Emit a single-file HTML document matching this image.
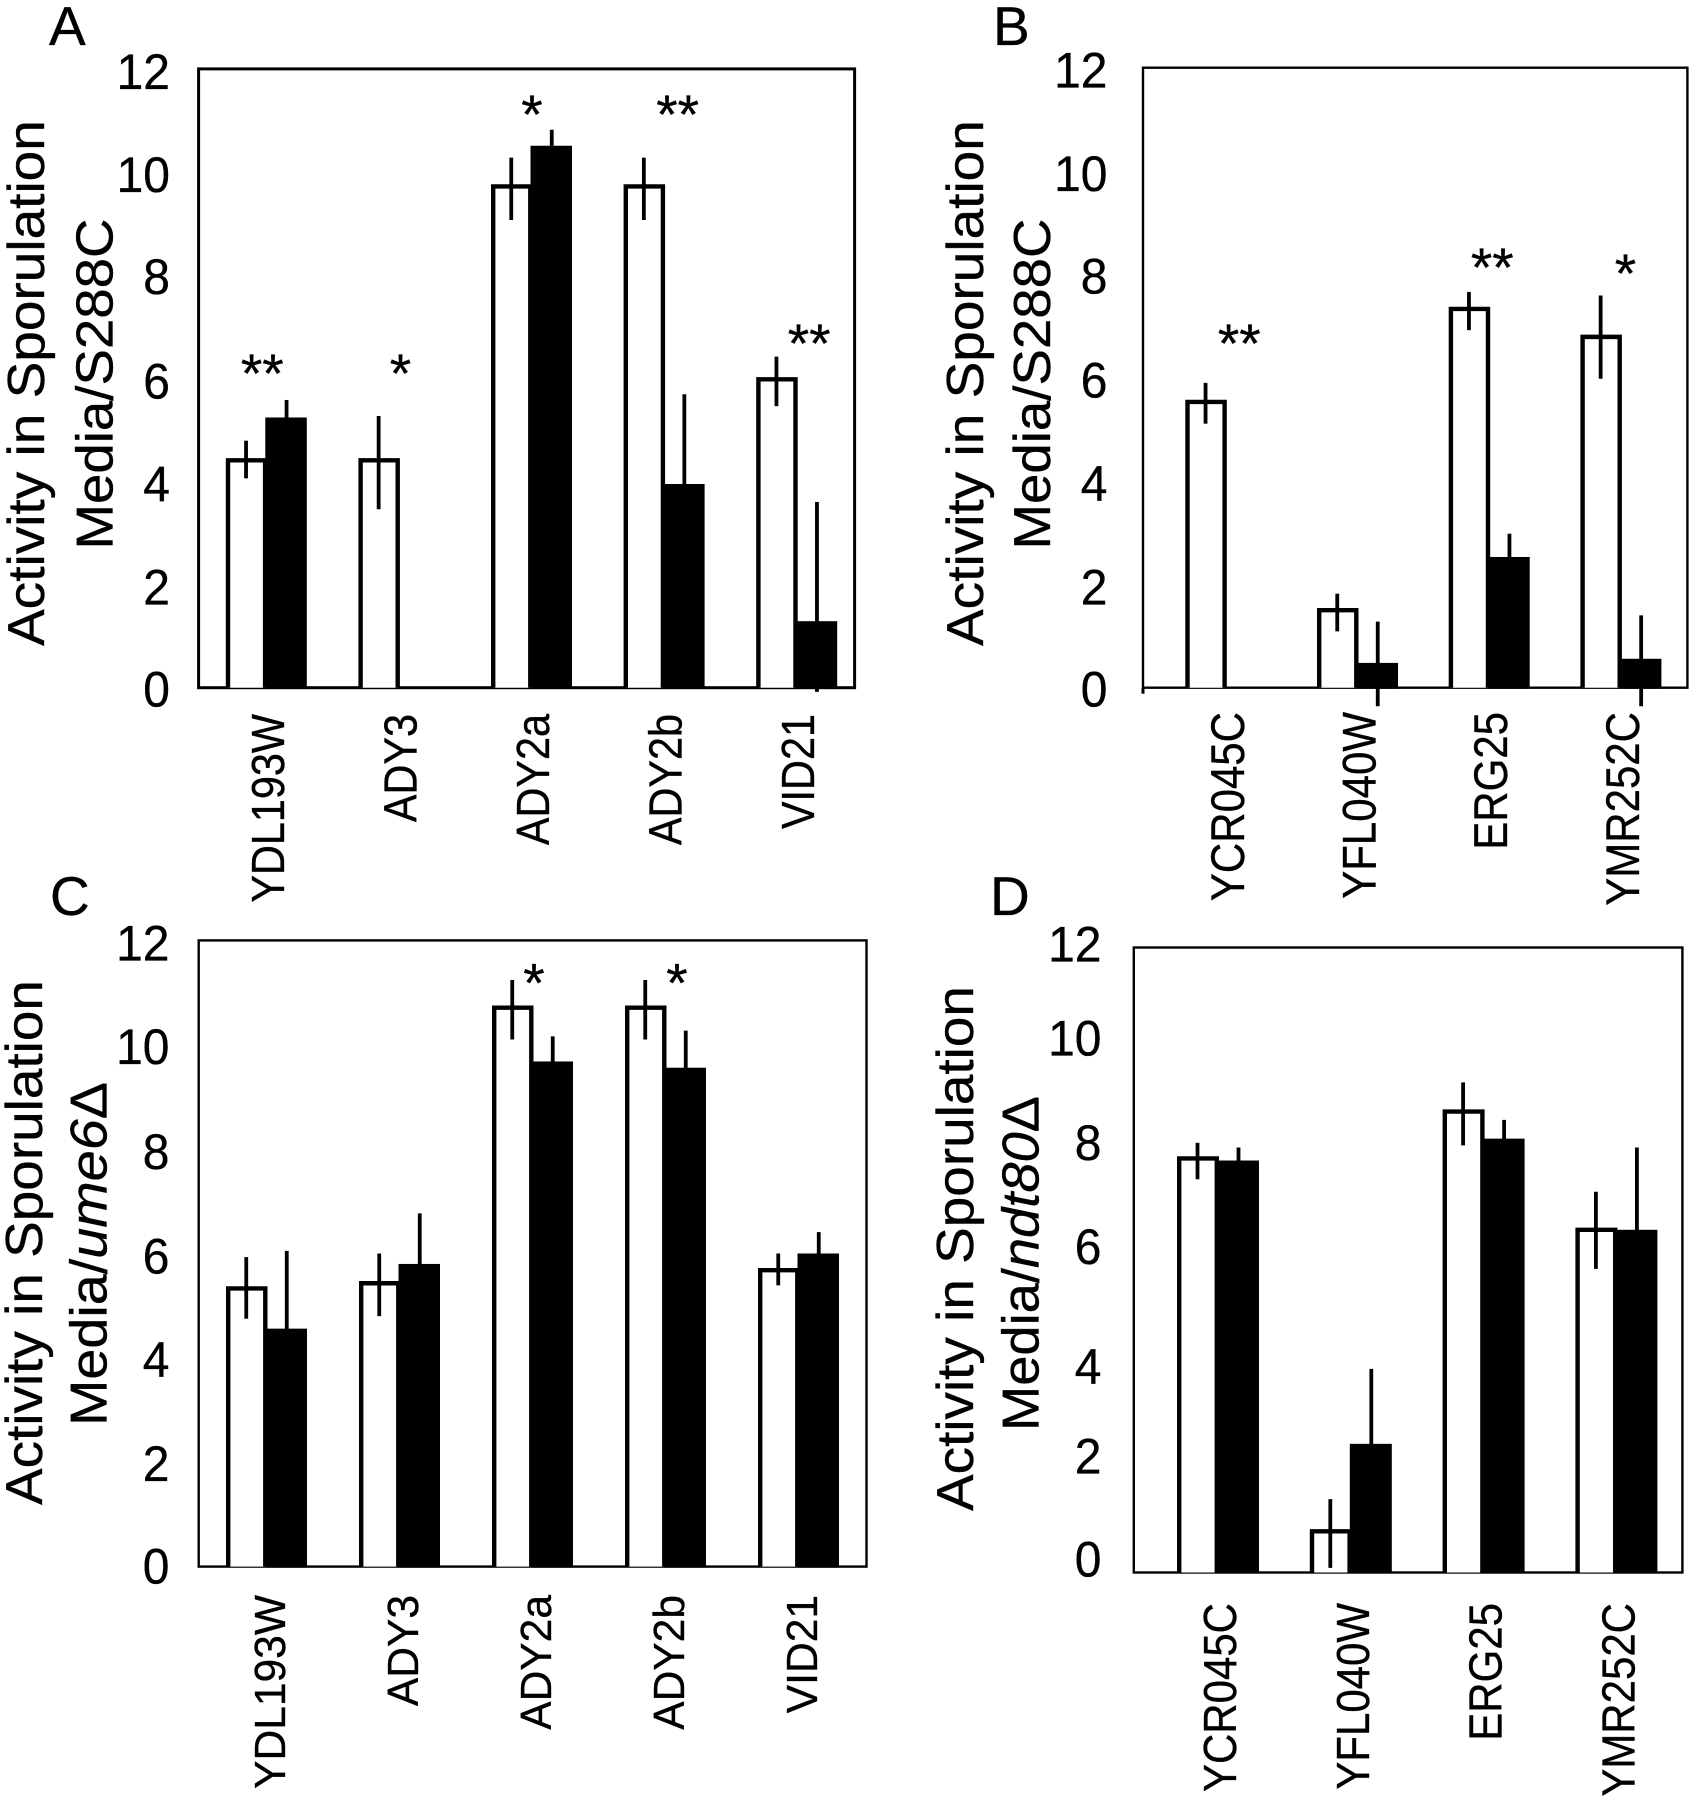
<!DOCTYPE html>
<html lang="en">
<head>
<meta charset="utf-8">
<title>Activity in Sporulation Media</title>
<style>
html,body{margin:0;padding:0;background:#fff;}
svg{display:block;}
text{font-family:"Liberation Sans",sans-serif;fill:#000;stroke:#000;stroke-width:.35px;}
</style>
</head>
<body>
<svg id="figure" xmlns="http://www.w3.org/2000/svg" width="1690" height="1800" viewBox="0 0 1690 1800"></svg>
<script>
const yTickLabels = [0, 2, 4, 6, 8, 10, 12];

const categoriesA = ['YDL193W', 'ADY3', 'ADY2a', 'ADY2b', 'VID21'];
const whiteA = [4.41, 4.41, 9.72, 9.72, 5.98];
const whiteHiA = [4.79, 5.27, 10.28, 10.28, 6.42];
const whiteLoA = [4.06, 3.46, 9.07, 9.07, 5.46];
const blackA = [5.24, null, 10.51, 3.95, 1.29];
const blackHiA = [5.58, null, 10.82, 5.69, 3.6];
const blackLoA = [4.9, null, 10.2, 2.2, -0.08];
const sigLabelsA = ['**', '*', '*', '**', '**'];
const sigLevelsA = [6.24, 6.24, 11.26, 11.26, 6.82];

const categoriesB = ['YCR045C', 'YFL040W', 'ERG25', 'YMR252C'];
const whiteB = [5.53, 1.5, 7.33, 6.79];
const whiteHiB = [5.9, 1.82, 7.66, 7.59];
const whiteLoB = [5.11, 1.09, 6.92, 5.98];
const blackB = [null, 0.48, 2.53, 0.56];
const blackHiB = [null, 1.28, 2.98, 1.4];
const blackLoB = [null, -0.36, 2.1, -0.36];
const sigLabelsB = ['**', '', '**', '*'];
const sigLevelsB = [6.81, 0, 8.28, 8.16];

const categoriesC = ['YDL193W', 'ADY3', 'ADY2a', 'ADY2b', 'VID21'];
const whiteC = [5.33, 5.43, 10.71, 10.71, 5.68];
const whiteHiC = [5.93, 6.0, 11.24, 11.24, 6.0];
const whiteLoC = [4.75, 4.8, 10.1, 10.1, 5.39];
const blackC = [4.56, 5.8, 9.68, 9.56, 6.0];
const blackHiC = [6.05, 6.77, 10.16, 10.27, 6.41];
const blackLoC = [3.1, 4.9, 9.2, 8.9, 5.6];
const sigLabelsC = ['', '', '*', '*', ''];
const sigLevelsC = [0, 0, 11.33, 11.33, 0];

const categoriesD = ['YCR045C', 'YFL040W', 'ERG25', 'YMR252C'];
const whiteD = [7.95, 0.79, 8.85, 6.58];
const whiteHiD = [8.25, 1.41, 9.41, 7.31];
const whiteLoD = [7.55, 0.09, 8.2, 5.83];
const blackD = [7.91, 2.47, 8.33, 6.58];
const blackHiD = [8.16, 3.91, 8.69, 8.16];
const blackLoD = [7.6, 1.1, 8.0, 5.0];
const sigLabelsD = ['', '', '', ''];
const sigLevelsD = [0, 0, 0, 0];

const NS = 'http://www.w3.org/2000/svg';
const root = document.getElementById('figure');

function node(parent, tag, attrs) {
  const el = document.createElementNS(NS, tag);
  for (const k in attrs) el.setAttribute(k, attrs[k]);
  parent.appendChild(el);
  return el;
}

function fitRotated(el, bx, by, length) {
  const w = el.getComputedTextLength();
  el.setAttribute('transform', 'translate(' + bx + ' ' + by + ') rotate(-90) scale(' + (length / w) + ' 1)');
}

function drawPanel(p) {
  const g = node(root, 'g', {});
  
  

  const yScale = v => p.bottom - v * (p.bottom - p.top) / 12;
  const xBand = i => p.x0 + i * p.step;

  const letter = node(g, 'text', {x: p.letterX, y: p.letterY, 'font-size': 55});
  letter.textContent = p.id;
  
  

  const frame = node(g, 'rect', {x: p.left, y: p.top, width: p.right - p.left, height: p.bottom - p.top, fill: 'none', stroke: '#000', 'stroke-width': p.frameWidth});
  
  

  yTickLabels.forEach((t, i) => {
    const nudge = p.tickNudge[i];
    const yPos = yScale(t) + nudge + 18;
    const lab = node(g, 'text', {'font-size': 50, 'text-anchor': 'end', transform: 'translate(' + p.tickRight + ' ' + yPos + ') scale(.96 1)'});
    lab.textContent = String(t);
    
    
  });

  const t1 = node(g, 'text', {'font-size': p.titleFont});
  t1.textContent = 'Activity in Sporulation';
  
  
  fitRotated(t1, p.title1X, p.title1Start, p.title1Len);

  const t2 = node(g, 'text', {'font-size': p.titleFont});
  
  
  const s1 = node(t2, 'tspan', {});
  s1.textContent = 'Media/';
  const s2 = node(t2, 'tspan', p.titleItalic ? {'font-style': 'italic'} : {});
  s2.textContent = p.titleStrain;
  if (p.titleDelta) {
    const s3 = node(t2, 'tspan', {});
    s3.textContent = 'Δ';
  }
  fitRotated(t2, p.title2X, p.title2Start, p.title2Len);

  p.categories.forEach((cat, i) => {
    const gx = xBand(i);
    const w = p.barW;
    const sw = 4.4;

    const bv = p.black[i];
    if (bv !== null) {
      const bar = node(g, 'rect', {x: gx + w - 1, y: yScale(bv), width: w + 1, height: yScale(0) - yScale(bv) + 1, fill: '#000'});
      
      
      const err = node(g, 'line', {x1: gx + w * 1.5, x2: gx + w * 1.5, y1: yScale(p.blackHi[i]), y2: yScale(p.blackLo[i]), stroke: '#000', 'stroke-width': 3.8});
      
      
    }

    const wv = p.white[i];
    const wbar = node(g, 'path', {d: 'M' + (gx + sw / 2) + ' ' + yScale(0) + 'V' + yScale(wv) + 'H' + (gx + w - sw / 2 + 1) + 'V' + yScale(0), fill: '#fff', stroke: '#000', 'stroke-width': sw});
    
    
    const werr = node(g, 'line', {x1: gx + w / 2, x2: gx + w / 2, y1: yScale(p.whiteHi[i]), y2: yScale(p.whiteLo[i]), stroke: '#000', 'stroke-width': 3.8});
    
    

    const lab = node(g, 'text', {'font-size': p.xFont, 'text-anchor': 'end', transform: 'translate(' + (gx + p.xLabelDx) + ' ' + p.xLabelTop + ') rotate(-90) scale(' + p.xScale + ' 1)'});
    lab.textContent = cat;
    
    

    if (p.sigLabels[i]) {
      const star = node(g, 'text', {x: gx + p.sigDx[i], y: yScale(p.sigLevels[i]) + 26, 'font-size': 55, 'text-anchor': 'middle'});
      star.textContent = p.sigLabels[i];
      
      
    }
  });

  if (p.leftStub) {
    const stub = node(g, 'line', {x1: p.left, x2: p.left, y1: p.bottom, y2: p.bottom + 6, stroke: '#000', 'stroke-width': 3});
    
    
  }
}

drawPanel({
  id: 'A', categories: categoriesA, white: whiteA, whiteHi: whiteHiA, whiteLo: whiteLoA,
  black: blackA, blackHi: blackHiA, blackLo: blackLoA, sigLabels: sigLabelsA, sigLevels: sigLevelsA,
  sigDx: [36.5, 42, 41, 54, 53],
  left: 198.6, right: 854.6, top: 68.9, bottom: 687.7, frameWidth: 3,
  x0: 225.8, step: 132.6, barW: 40.5,
  letterX: 49, letterY: 45, tickRight: 170, tickNudge: [1, 2, 2, 2, 1, 2, 2],
  titleFont: 52, title1X: 44, title1Start: 646, title1Len: 526,
  title2X: 112.5, title2Start: 549.5, title2Len: 331, titleStrain: 'S288C', titleItalic: false, titleDelta: false,
  xFont: 46, xScale: 0.9, xLabelDx: 58, xLabelTop: 714
});

drawPanel({
  id: 'B', categories: categoriesB, white: whiteB, whiteHi: whiteHiB, whiteLo: whiteLoB,
  black: blackB, blackHi: blackHiB, blackLo: blackLoB, sigLabels: sigLabelsB, sigLevels: sigLevelsB,
  sigDx: [54, 0, 43.6, 45],
  left: 1143, right: 1687.4, top: 67.7, bottom: 687.7, frameWidth: 2.4, leftStub: true,
  x0: 1185.3, step: 131.7, barW: 40.5,
  letterX: 993, letterY: 45, tickRight: 1107.5, tickNudge: [1, 2, 2, 2, 1, 2, 2],
  titleFont: 52, title1X: 983, title1Start: 646, title1Len: 526,
  title2X: 1050, title2Start: 549.5, title2Len: 331, titleStrain: 'S288C', titleItalic: false, titleDelta: false,
  xFont: 47, xScale: 0.894, xLabelDx: 58.5, xLabelTop: 712
});

drawPanel({
  id: 'C', categories: categoriesC, white: whiteC, whiteHi: whiteHiC, whiteLo: whiteLoC,
  black: blackC, blackHi: blackHiC, blackLo: blackLoC, sigLabels: sigLabelsC, sigLevels: sigLevelsC,
  sigDx: [0, 0, 42, 52, 0],
  left: 198.7, right: 866.5, top: 940.4, bottom: 1566.6, frameWidth: 2.4,
  x0: 226, step: 133, barW: 40.5,
  letterX: 50, letterY: 915, tickRight: 169.5, tickNudge: [-1, 1, 1, 2, 2, 1, 2],
  titleFont: 52, title1X: 42, title1Start: 1505, title1Len: 525,
  title2X: 106.6, title2Start: 1426, title2Len: 344, titleStrain: 'ume6', titleItalic: true, titleDelta: true,
  xFont: 44, xScale: 0.967, xLabelDx: 59, xLabelTop: 1595
});

drawPanel({
  id: 'D', categories: categoriesD, white: whiteD, whiteHi: whiteHiD, whiteLo: whiteLoD,
  black: blackD, blackHi: blackHiD, blackLo: blackLoD, sigLabels: sigLabelsD, sigLevels: sigLevelsD,
  sigDx: [0, 0, 0, 0],
  left: 1133.8, right: 1682.4, top: 947.5, bottom: 1572.5, frameWidth: 2.4,
  x0: 1177, step: 132.8, barW: 41,
  letterX: 990, letterY: 915, tickRight: 1101.5, tickNudge: [-14, -13, 2, -14, -14, -14, -4],
  titleFont: 52, title1X: 973, title1Start: 1511, title1Len: 525,
  title2X: 1038.5, title2Start: 1431, title2Len: 335, titleStrain: 'ndt80', titleItalic: true, titleDelta: true,
  xFont: 46, xScale: 0.913, xLabelDx: 59, xLabelTop: 1603
});
</script>
</body>
</html>
